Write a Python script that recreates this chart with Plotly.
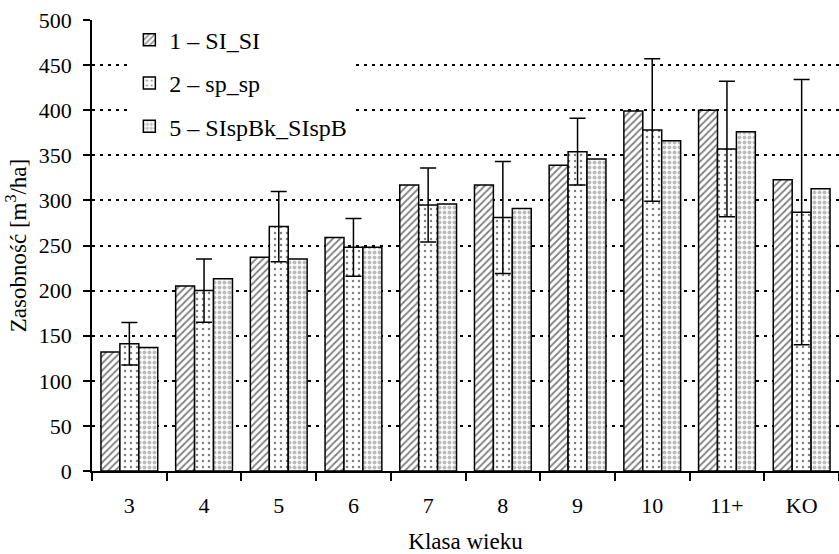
import plotly.graph_objects as go

categories = ["3", "4", "5", "6", "7", "8", "9", "10", "11+", "KO"]
series_names = ["1 – SI_SI", "2 – sp_sp", "5 – SIspBk_SIspB"]
s1 = [132, 205, 237, 259, 317, 317, 339, 399, 400, 323]
s2 = [141, 200, 271, 248, 295, 281, 354, 378, 357, 287]
s3 = [137, 213, 235, 248, 296, 291, 346, 366, 376, 313]
s2_err = [23.5, 35, 39, 32, 41, 62, 37, 79, 75, 147]
y_ticks = [0, 50, 100, 150, 200, 250, 300, 350, 400, 450, 500]

FONT = "Liberation Serif, Times New Roman, serif"

fig = go.Figure()
fig.add_trace(go.Bar(
    x=categories, y=s1, name=series_names[0], legendgroup="a",
    marker=dict(color="white", line=dict(color="black", width=1.5),
                pattern=dict(shape="/", fgcolor="black", bgcolor="white", size=5, solidity=0.35)),
))
fig.add_trace(go.Bar(
    x=categories, y=s2, name=series_names[1], legendgroup="b",
    marker=dict(color="white", line=dict(color="black", width=1.5),
                pattern=dict(shape=".", fgcolor="black", bgcolor="white", size=6, solidity=0.14)),
    error_y=dict(type="data", array=s2_err, visible=True, color="black", thickness=1.5, width=8),
))
fig.add_trace(go.Bar(
    x=categories, y=s3, name=series_names[2], legendgroup="c",
    marker=dict(color="white", line=dict(color="black", width=1.5),
                pattern=dict(shape=".", fgcolor="#7a7a7a", bgcolor="white", size=5, solidity=0.5)),
))

fig.update_layout(
    width=839, height=554,
    margin=dict(l=92, r=0, t=20, b=83),
    paper_bgcolor="white", plot_bgcolor="white",
    barmode="group", bargap=0.24, bargroupgap=0,
    font=dict(family=FONT, size=22, color="black"),
    showlegend=True,
    legend=dict(x=0.05, y=1.005, xanchor="left", yanchor="top",
                bgcolor="white", font=dict(family=FONT, size=24, color="black"),
                tracegroupgap=9, itemwidth=30),
    xaxis=dict(
        type="category", showline=True, linecolor="black", linewidth=1.5,
        ticks="outside", tickson="boundaries", ticklen=8, tickwidth=1.5, tickcolor="black",
        showgrid=False, ticklabelstandoff=14, automargin=False,
        tickfont=dict(family=FONT, size=22),
        title=dict(text="Klasa wieku", font=dict(family=FONT, size=23), standoff=18),
    ),
    yaxis=dict(
        range=[0, 500], tickvals=y_ticks, showline=True, linecolor="black", linewidth=1.5,
        ticks="outside", ticklen=7, tickwidth=1.5, tickcolor="black",
        showgrid=True, gridcolor="black", gridwidth=1.5, griddash="3px,5px",
        zeroline=False, automargin=False, ticklabelstandoff=7,
        tickfont=dict(family=FONT, size=22),
        title=dict(text="Zasobność [m<sup>3</sup>/ha]", font=dict(family=FONT, size=23), standoff=6),
    ),
)

fig.write_html(
    "out.html",
    config={"displayModeBar": False},
    post_script="document.body.style.margin='0';document.body.style.overflow='hidden';",
)
